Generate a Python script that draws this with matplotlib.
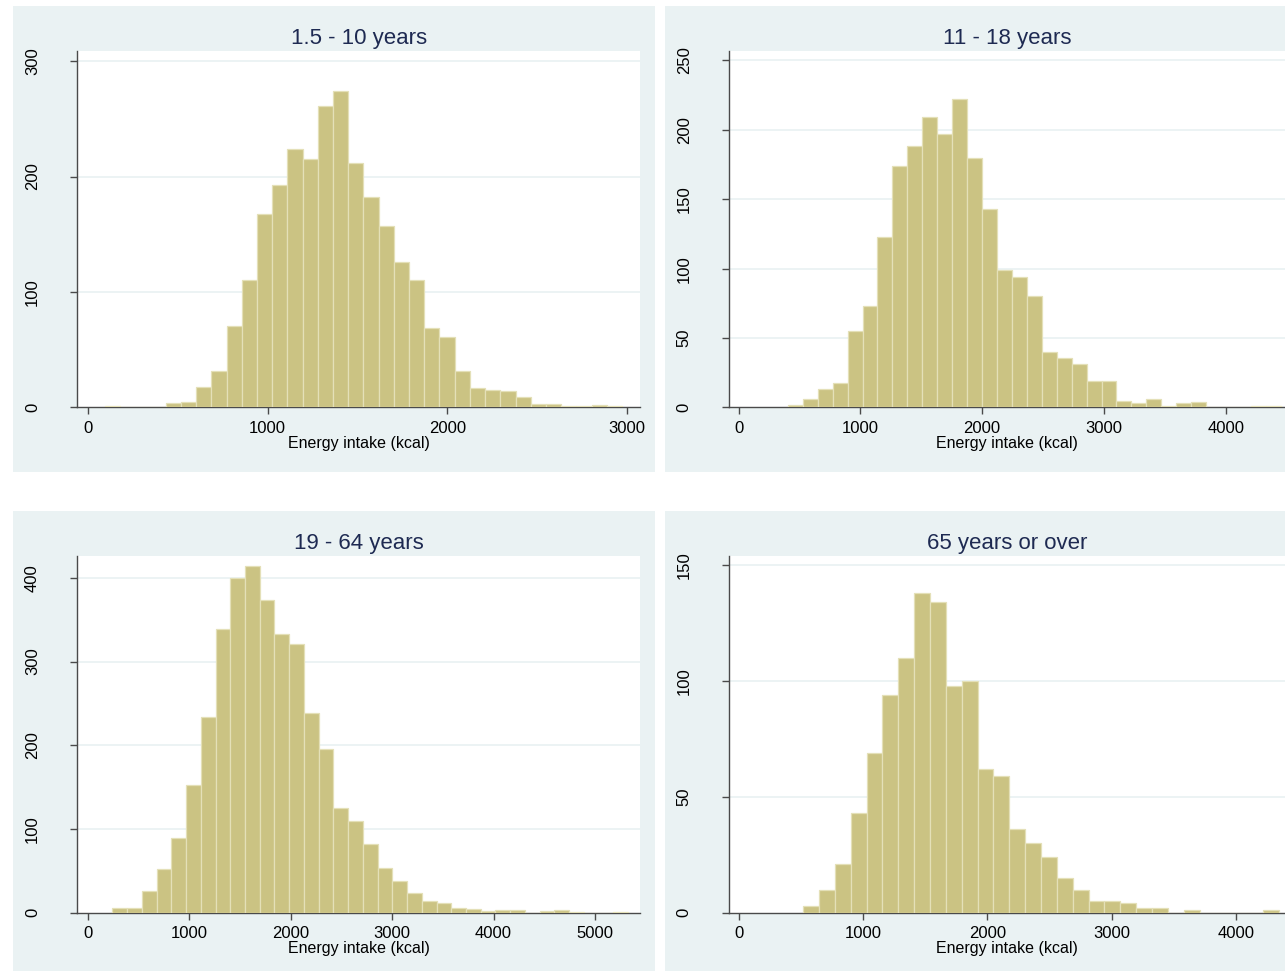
import matplotlib
matplotlib.use("Agg")
import matplotlib.pyplot as plt
from matplotlib.patches import Rectangle

plt.rcParams['font.family'] = ['Liberation Sans', 'DejaVu Sans']

################################ histogram data ################################
titles = ["1.5 - 10 years", "11 - 18 years", "19 - 64 years", "65 years or over"]

# first bin edge and bin width (kcal) per age group
bin_start = [93.5, 405.0, 241.0, 517.0]
bin_width = [84.66, 122.6, 145.3, 127.6]

counts_child = [1, 0, 0, 0, 4, 5, 18, 32, 71, 110, 168, 193, 224, 215, 261, 274, 212,
                182, 157, 126, 110, 69, 61, 32, 17, 15, 14, 9, 3, 3, 1, 1, 2, 1]
counts_teen = [2, 6, 13, 18, 55, 73, 123, 174, 188, 209, 197, 222, 180, 143, 99, 94, 80,
               40, 36, 31, 19, 19, 5, 3, 6, 1, 3, 4, 0, 0, 0, 1, 1]
counts_adult = [6, 6, 26, 52, 89, 153, 234, 339, 400, 414, 373, 333, 321, 238, 195, 125,
                110, 82, 53, 38, 24, 14, 12, 6, 4, 2, 3, 3, 0, 2, 3, 1, 0, 0, 1]
counts_senior = [3, 10, 21, 43, 69, 94, 110, 138, 134, 98, 100, 62, 59, 36, 30, 24, 15,
                 10, 5, 5, 4, 2, 2, 0, 1, 0, 0, 0, 0, 1]
all_counts = [counts_child, counts_teen, counts_adult, counts_senior]

x_ticks = [[0, 1000, 2000, 3000],
           [0, 1000, 2000, 3000, 4000],
           [0, 1000, 2000, 3000, 4000, 5000],
           [0, 1000, 2000, 3000, 4000]]
y_ticks = [[0, 100, 200, 300],
           [0, 50, 100, 150, 200, 250],
           [0, 100, 200, 300, 400],
           [0, 50, 100, 150]]
x_label = "Energy intake (kcal)"

################################ layout (pixels of a 1285x971 canvas) ################################
W, H = 1285, 971
# panel backgrounds: left, top, right, bottom
panel_px = [(13, 6, 655, 472), (665, 6, 1285, 472),
            (13, 511, 655, 971), (665, 511, 1285, 971)]
# plot regions: left, top, right, bottom
plot_px = [(77.4, 50.7, 640, 407.5), (729.3, 50.7, 1285, 407.5),
           (77.4, 556, 640, 912.7), (729.3, 556, 1285, 912.7)]
x_lims = [(-59, 3072), (-76, 4486), (-104, 5444), (-78, 4395)]
y_lims = [(0, 309), (0, 257), (0, 426), (0, 154)]

panel_bg = "#EAF2F3"
bar_fill = "#CBC383"
bar_edge = "#E4E0B8"
title_col = "#1E2A52"
axis_col = "#4A4A4A"

fig = plt.figure(figsize=(W / 100, H / 100), dpi=100)
fig.patch.set_facecolor("white")

for i in range(4):
    l, t, r, b = panel_px[i]
    fig.add_artist(Rectangle((l / W, 1 - b / H), (r - l) / W, (b - t) / H,
                             transform=fig.transFigure, facecolor=panel_bg,
                             edgecolor="none", zorder=0))

    l, t, r, b = plot_px[i]
    ax = fig.add_axes([l / W, 1 - b / H, (r - l) / W, (b - t) / H])
    ax.set_facecolor("white")

    counts = all_counts[i]
    lefts = [bin_start[i] + k * bin_width[i] for k in range(len(counts))]
    ax.bar(lefts, counts, width=bin_width[i], align="edge", color=bar_fill,
           edgecolor=bar_edge, linewidth=0.9, zorder=3)

    ax.set_xlim(*x_lims[i])
    ax.set_ylim(*y_lims[i])
    ax.set_xticks(x_ticks[i])
    ax.set_yticks(y_ticks[i])

    # light horizontal grid, like stata's s2color scheme
    for yv in y_ticks[i][1:]:
        ax.axhline(yv, color=panel_bg, linewidth=1.3, zorder=1)

    for side in ["top", "right"]:
        ax.spines[side].set_visible(False)
    for side in ["left", "bottom"]:
        ax.spines[side].set_color(axis_col)
        ax.spines[side].set_linewidth(1.0)

    ax.tick_params(axis="x", length=5, width=1, color=axis_col, pad=4.5, labelsize=12)
    ax.tick_params(axis="y", length=5, width=1, color=axis_col, pad=22, labelsize=12,
                   labelrotation=90)
    for lab in ax.get_yticklabels():
        lab.set_va("center")

    ax.set_xlabel(x_label, fontsize=11.5, labelpad=0)
    ax.set_title(titles[i], fontsize=16, color=title_col, pad=5)

fig.savefig("out.png", dpi=100, facecolor="white")
